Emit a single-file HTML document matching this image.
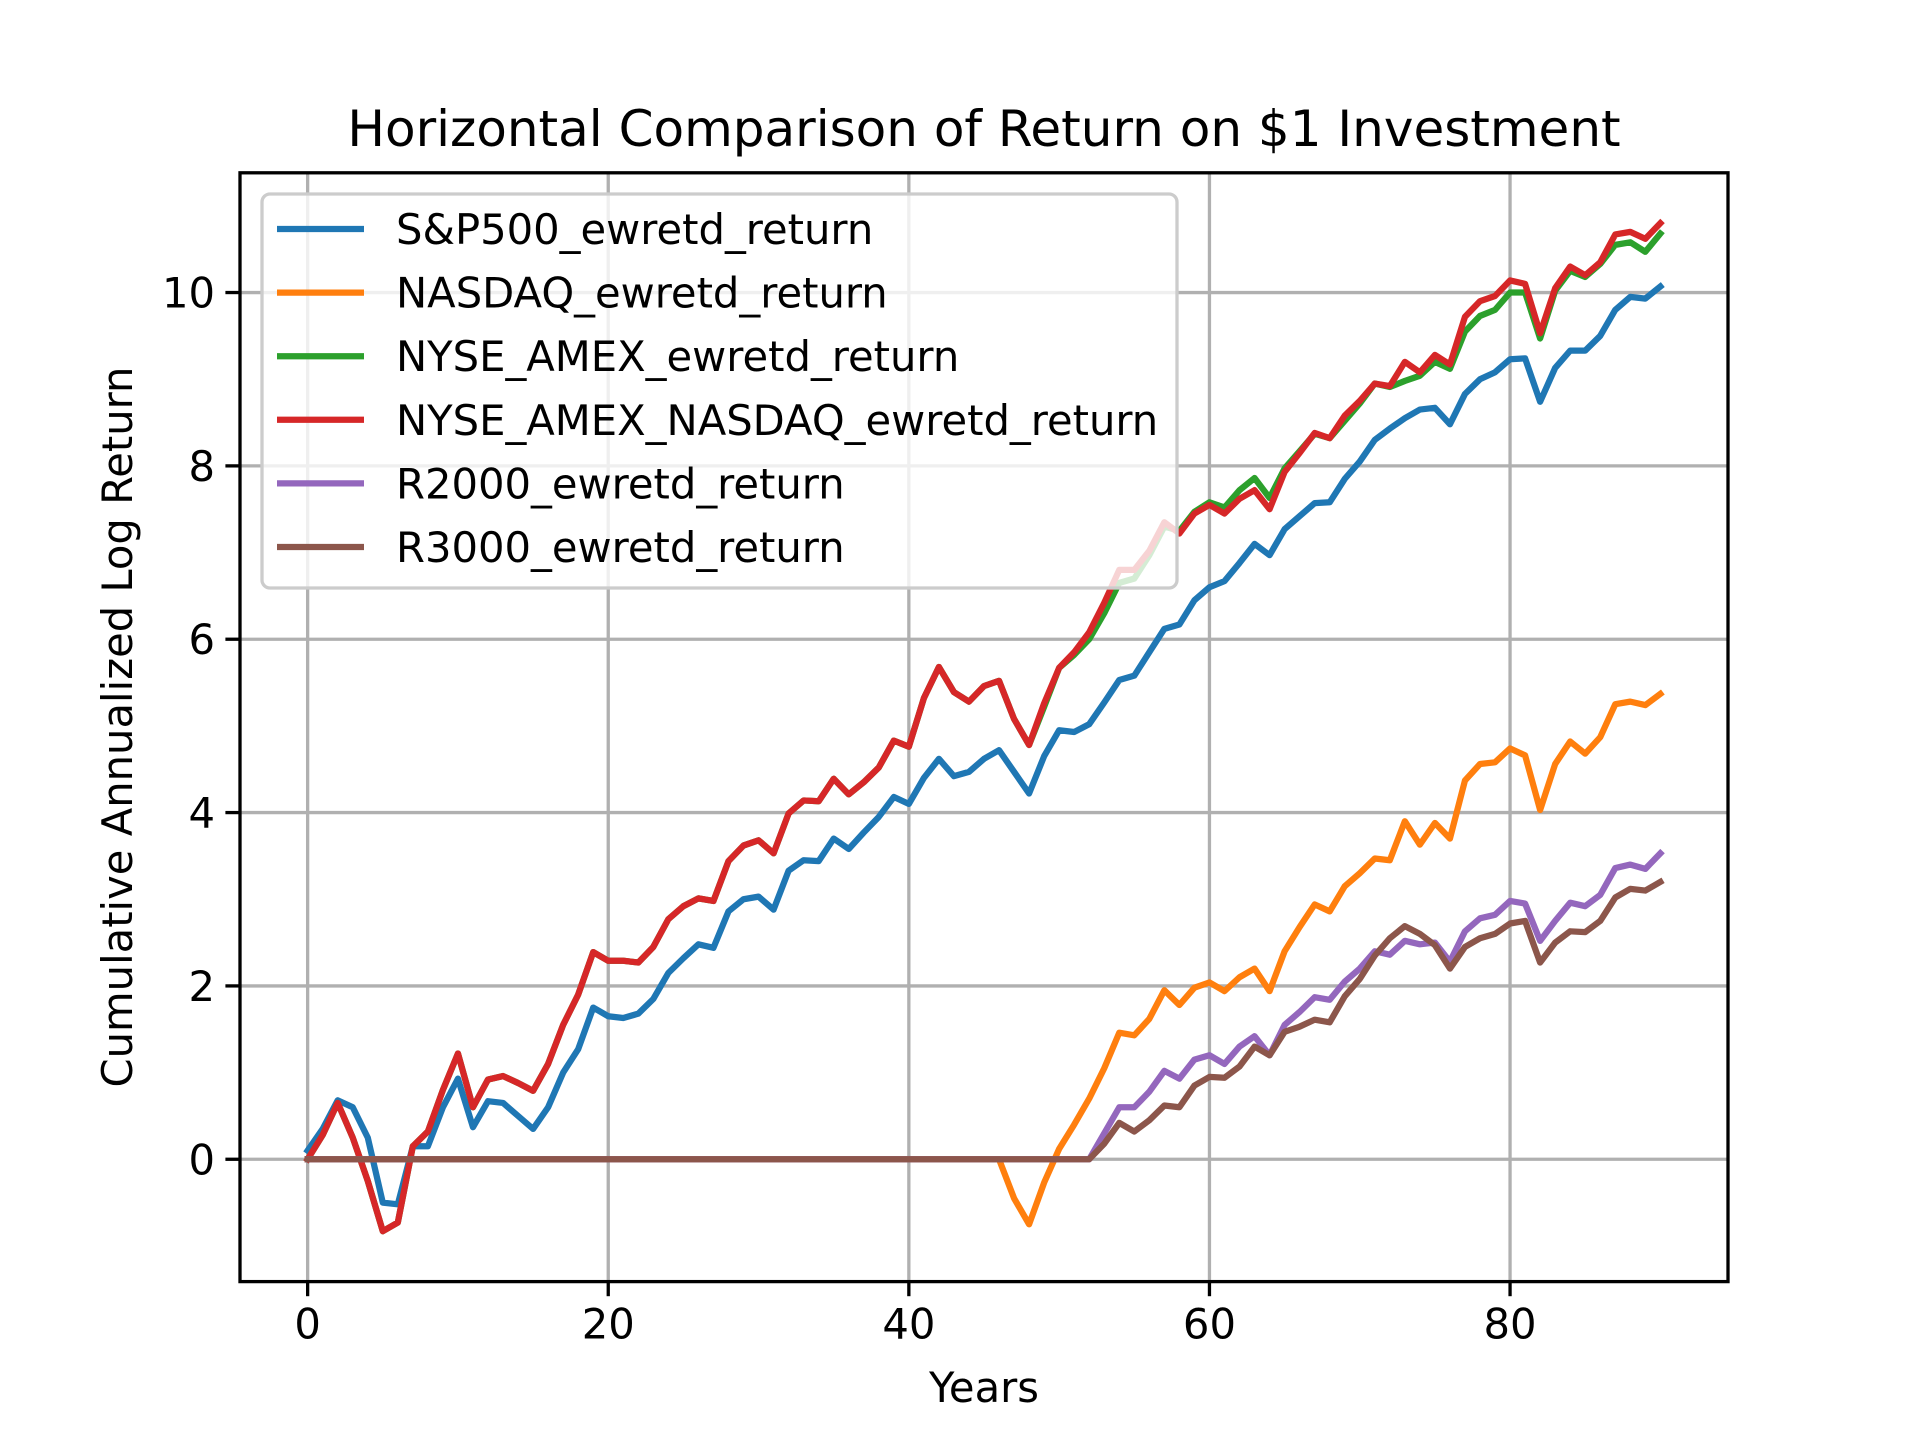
<!DOCTYPE html>
<html><head><meta charset="utf-8"><style>
html,body{margin:0;padding:0;background:#fff}
svg{display:block;font-family:"DejaVu Sans","Liberation Sans",sans-serif}
</style></head><body>
<svg id="chart" width="1920" height="1440" viewBox="0 0 1920 1440" xmlns="http://www.w3.org/2000/svg">
<rect width="1920" height="1440" fill="#fff"/>
<g id="grid"></g>
<g id="series"></g>
<g id="axes"></g>
<g id="legend"></g>
<text x="984" y="146" font-size="50" text-anchor="middle" fill="#000">Horizontal Comparison of Return on $1 Investment</text>
<text x="984" y="1402" font-size="41.7" text-anchor="middle" fill="#000">Years</text>
<text x="0" y="0" font-size="41.7" text-anchor="middle" fill="#000" transform="translate(132,727) rotate(-90)">Cumulative Annualized Log Return</text>
</svg>
<script>
const seriesNames = ["S&P500_ewretd_return","NASDAQ_ewretd_return","NYSE_AMEX_ewretd_return","NYSE_AMEX_NASDAQ_ewretd_return","R2000_ewretd_return","R3000_ewretd_return"];
const seriesColors = ["#1f77b4","#ff7f0e","#2ca02c","#d62728","#9467bd","#8c564b"];
const xTicks = [0,20,40,60,80];
const yTicks = [0,2,4,6,8,10];
const sp500 = [0.1,0.35,0.68,0.6,0.25,-0.5,-0.52,0.15,0.15,0.6,0.93,0.37,0.67,0.65,0.5,0.35,0.6,1.0,1.27,1.75,1.65,1.63,1.68,1.85,2.15,2.32,2.48,2.44,2.86,3.0,3.03,2.88,3.33,3.45,3.44,3.7,3.58,3.77,3.95,4.18,4.1,4.4,4.62,4.42,4.47,4.62,4.72,4.47,4.22,4.65,4.95,4.93,5.02,5.27,5.53,5.58,5.85,6.12,6.17,6.45,6.6,6.67,6.88,7.1,6.97,7.27,7.42,7.57,7.58,7.85,8.05,8.3,8.43,8.55,8.65,8.67,8.48,8.83,9.0,9.08,9.23,9.24,8.74,9.13,9.33,9.33,9.5,9.8,9.95,9.93,10.07];
const nasdaq = [0,0,0,0,0,0,0,0,0,0,0,0,0,0,0,0,0,0,0,0,0,0,0,0,0,0,0,0,0,0,0,0,0,0,0,0,0,0,0,0,0,0,0,0,0,0,0,-0.45,-0.75,-0.27,0.12,0.4,0.7,1.05,1.46,1.43,1.62,1.95,1.78,1.98,2.04,1.94,2.1,2.2,1.94,2.4,2.68,2.94,2.86,3.15,3.3,3.47,3.45,3.9,3.63,3.88,3.7,4.37,4.56,4.58,4.74,4.66,4.03,4.56,4.82,4.68,4.87,5.25,5.28,5.24,5.37];
const nyseAmex = [0.0,0.28,0.65,0.25,-0.25,-0.83,-0.73,0.15,0.32,0.8,1.22,0.6,0.92,0.96,0.88,0.79,1.1,1.55,1.9,2.39,2.29,2.29,2.27,2.45,2.77,2.92,3.01,2.98,3.44,3.62,3.68,3.53,3.99,4.14,4.13,4.39,4.21,4.35,4.52,4.83,4.76,5.32,5.68,5.39,5.28,5.46,5.52,5.08,4.78,5.22,5.67,5.82,6.0,6.3,6.65,6.7,6.97,7.3,7.25,7.47,7.58,7.52,7.72,7.86,7.63,7.97,8.17,8.37,8.32,8.52,8.72,8.95,8.91,8.98,9.04,9.2,9.12,9.55,9.73,9.8,10.0,10.0,9.47,10.02,10.25,10.18,10.33,10.55,10.58,10.47,10.68];
const nyseAmexNasdaq = [0.0,0.28,0.65,0.25,-0.25,-0.83,-0.73,0.15,0.32,0.8,1.22,0.6,0.92,0.96,0.88,0.79,1.1,1.55,1.9,2.39,2.29,2.29,2.27,2.45,2.77,2.92,3.01,2.98,3.44,3.62,3.68,3.53,3.99,4.14,4.13,4.39,4.21,4.35,4.52,4.83,4.76,5.32,5.68,5.39,5.28,5.46,5.52,5.08,4.78,5.26,5.67,5.85,6.08,6.42,6.8,6.8,7.02,7.35,7.22,7.45,7.55,7.45,7.62,7.72,7.5,7.93,8.15,8.38,8.32,8.58,8.75,8.95,8.92,9.2,9.08,9.28,9.17,9.72,9.9,9.96,10.14,10.1,9.53,10.05,10.3,10.2,10.35,10.67,10.7,10.62,10.8];
const r2000 = [0,0,0,0,0,0,0,0,0,0,0,0,0,0,0,0,0,0,0,0,0,0,0,0,0,0,0,0,0,0,0,0,0,0,0,0,0,0,0,0,0,0,0,0,0,0,0,0,0,0,0,0,0,0.3,0.6,0.6,0.78,1.02,0.93,1.15,1.2,1.1,1.3,1.42,1.2,1.55,1.7,1.87,1.84,2.05,2.2,2.4,2.36,2.52,2.48,2.5,2.28,2.63,2.78,2.82,2.98,2.95,2.52,2.75,2.96,2.92,3.05,3.36,3.4,3.35,3.53];
const r3000 = [0,0,0,0,0,0,0,0,0,0,0,0,0,0,0,0,0,0,0,0,0,0,0,0,0,0,0,0,0,0,0,0,0,0,0,0,0,0,0,0,0,0,0,0,0,0,0,0,0,0,0,0,0,0.18,0.42,0.32,0.45,0.62,0.6,0.85,0.95,0.94,1.07,1.3,1.2,1.47,1.53,1.61,1.58,1.88,2.08,2.35,2.55,2.69,2.6,2.47,2.2,2.45,2.55,2.6,2.72,2.75,2.27,2.5,2.63,2.62,2.75,3.02,3.12,3.1,3.2];

const NS="http://www.w3.org/2000/svg";
const AX={l:240,r:1728,t:172.8,b:1281.6};
const allData=[sp500,nasdaq,nyseAmex,nyseAmexNasdaq,r2000,r3000];
const nMax=sp500.length-1;
const xMin=-0.05*nMax, xMax=nMax*1.05;
let lo=Math.min(...allData.flat()), hi=Math.max(...allData.flat());
const yMin=lo-(hi-lo)*0.05, yMax=hi+(hi-lo)*0.05;
function sx(v){return AX.l+(v-xMin)/(xMax-xMin)*(AX.r-AX.l);}
function sy(v){return AX.b-(v-yMin)/(yMax-yMin)*(AX.b-AX.t);}
function mk(tag,attrs,parent){const e=document.createElementNS(NS,tag);for(const k in attrs)e.setAttribute(k,attrs[k]);parent.appendChild(e);return e;}
const grid=document.getElementById('grid'),axes=document.getElementById('axes'),ser=document.getElementById('series'),leg=document.getElementById('legend');

xTicks.forEach(t=>{
  const g=mk('line',{x1:sx(t),x2:sx(t),y1:AX.t,y2:AX.b,stroke:'#b0b0b0','stroke-width':3.3},grid);
  
  
  const tk=mk('line',{x1:sx(t),x2:sx(t),y1:AX.b,y2:AX.b+14.6,stroke:'#000','stroke-width':3.3},axes);
  
  
  const tl=mk('text',{x:sx(t),y:AX.b+57,'font-size':41.7,'text-anchor':'middle',fill:'#000'},axes);
  
  
  tl.textContent=t;
});
yTicks.forEach(t=>{
  const g=mk('line',{x1:AX.l,x2:AX.r,y1:sy(t),y2:sy(t),stroke:'#b0b0b0','stroke-width':3.3},grid);
  
  
  const tk=mk('line',{x1:AX.l-14.6,x2:AX.l,y1:sy(t),y2:sy(t),stroke:'#000','stroke-width':3.3},axes);
  
  
  const tl=mk('text',{x:AX.l-25,y:sy(t)+15,'font-size':41.7,'text-anchor':'end',fill:'#000'},axes);
  
  
  tl.textContent=t;
});
allData.forEach((arr,i)=>{
  const d=arr.map((v,k)=>(k?'L':'M')+sx(k).toFixed(2)+' '+sy(v).toFixed(2)).join(' ');
  const p=mk('path',{d:d,fill:'none',stroke:seriesColors[i],'stroke-width':6.25,'stroke-linejoin':'round','stroke-linecap':'square'},ser);
  
  
});
const frame=mk('rect',{x:AX.l,y:AX.t,width:AX.r-AX.l,height:AX.b-AX.t,fill:'none',stroke:'#000','stroke-width':3.3},axes);



const box=mk('rect',{x:262,y:194,width:915,height:394,rx:8,fill:'#fff','fill-opacity':0.8,stroke:'#cccccc','stroke-width':3.3},leg);


seriesNames.forEach((n,i)=>{
  const y=229+i*63.6;
  const l=mk('line',{x1:277,x2:364,y1:y,y2:y,stroke:seriesColors[i],'stroke-width':6.25},leg);
  
  
  const t=mk('text',{x:396,y:y+15,'font-size':41.7,fill:'#000'},leg);
  
  
  t.textContent=n;
});
</script>
</body></html>
